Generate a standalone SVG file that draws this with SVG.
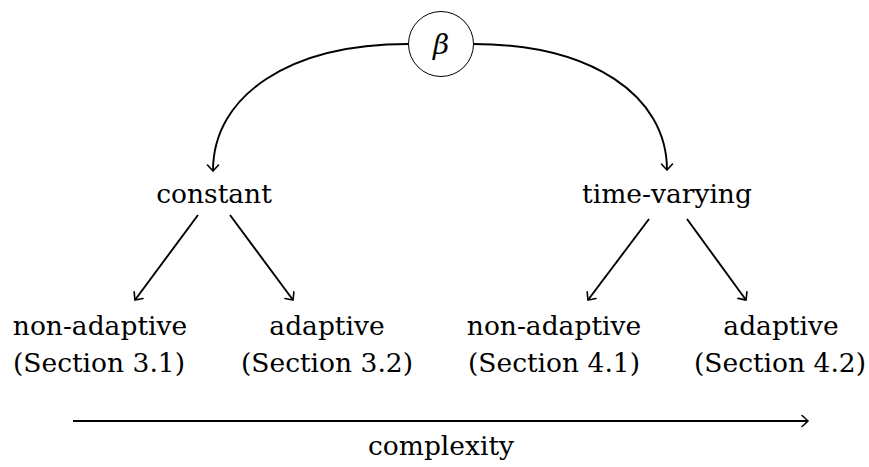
<svg xmlns="http://www.w3.org/2000/svg" width="869" height="467" viewBox="0 0 869 467">
<style>
.c{fill:none;stroke:#000;stroke-width:1.9}
text{font-family:'DejaVu Serif',serif}
</style>
<defs>
<marker id="ah" viewBox="-8 -7 10 14" markerWidth="10" markerHeight="14" refX="0" refY="0" orient="auto" markerUnits="userSpaceOnUse">
<path d="M-6,-5.5 Q-1.5,-1.5 0,0 Q-1.5,1.5 -6,5.5" fill="none" stroke="#000" stroke-width="1.6" stroke-linecap="round"/>
</marker>
</defs>
<rect width="869" height="467" fill="#fff"/>
<g id="connectors">
<path class="c" d="M408,44 C290,44 213,95 213,171" marker-end="url(#ah)"/>
<path class="c" d="M473,44 C591,44 667,95 667,170" marker-end="url(#ah)"/>
<path class="c" d="M198,215 L135,300" marker-end="url(#ah)"/>
<path class="c" d="M230,215 L293,300" marker-end="url(#ah)"/>
<path class="c" d="M649,219 L588,300" marker-end="url(#ah)"/>
<path class="c" d="M687,219 L746,300" marker-end="url(#ah)"/>
<path class="c" d="M73,421 L808,421" marker-end="url(#ah)"/>
</g>
<g font-size="26.5" text-anchor="middle" fill="#000">
<g id="beta">
<circle cx="441" cy="44" r="32.5" fill="#fff" stroke="#000" stroke-width="1"/>
<text x="441" y="54" font-style="italic" font-size="28">β</text>
</g>
<g id="constant"><text x="214" y="203">constant</text></g>
<g id="time-varying"><text x="667" y="203">time-varying</text></g>
<g id="c-nonadaptive"><text x="100" y="335">non-adaptive</text><text x="99" y="372">(Section 3.1)</text></g>
<g id="c-adaptive"><text x="327" y="335">adaptive</text><text x="327" y="372">(Section 3.2)</text></g>
<g id="t-nonadaptive"><text x="554" y="335">non-adaptive</text><text x="554" y="372">(Section 4.1)</text></g>
<g id="t-adaptive"><text x="781" y="335">adaptive</text><text x="780" y="372">(Section 4.2)</text></g>
<g id="complexity"><text x="441" y="455">complexity</text></g>
</g>
</svg>
